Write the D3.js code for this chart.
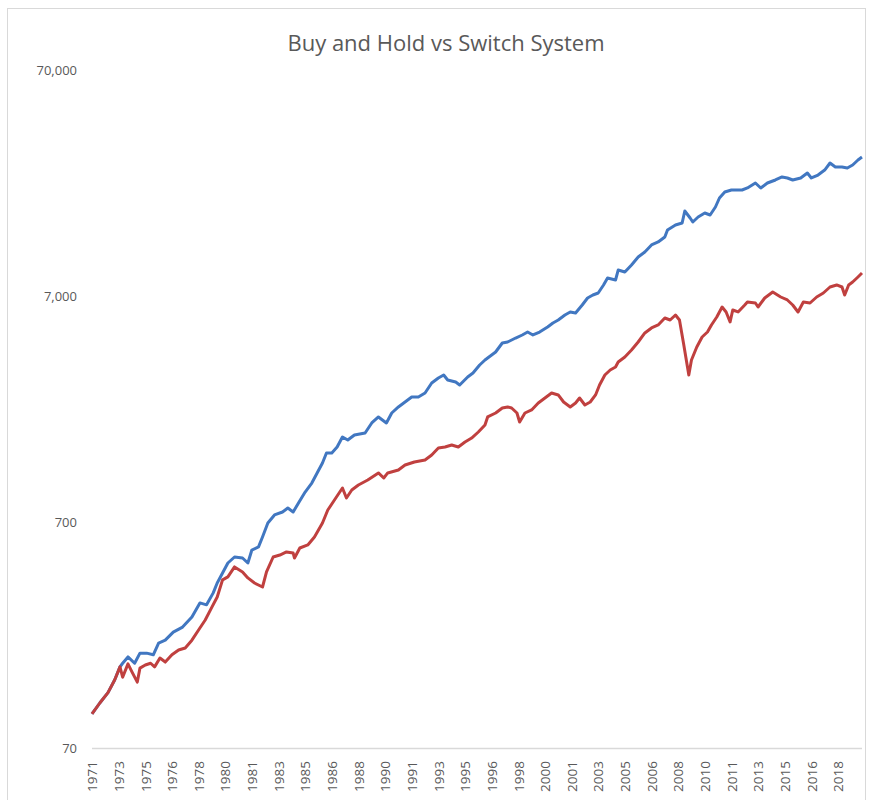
<!DOCTYPE html>
<html>
<head>
<meta charset="utf-8">
<script src="https://cdn.jsdelivr.net/npm/d3@7"></script>
<style>
  body { margin: 0; background: #fff; }
  svg { display: block; font-family: "Open Sans", sans-serif; }
</style>
</head>
<body>
<div class="container"></div>
<script>
// month offsets counted from the first data point (late 1971)
var tickMonths = [0,20,40,60,80,100,120,140,160,180,200,220,240,260,280,300,320,340,360,380,400,420,440,460,480,500,520,540,560];
var tickLabels = ['1971','1973','1975','1976','1978','1980','1981','1983','1985','1986','1988','1990','1991','1993','1995','1996','1998','2000','2001','2003','2005','2006','2008','2010','2011','2013','2015','2016','2018'];
var yTicks = [70, 700, 7000, 70000];

var blueMonths = [0,6,12,17,21,23,27,32,36,41,46,50,55,61,68,75,81,86,91,94,98,102,107,113,117,120,125,128,132,137,143,147,151,155,160,165,169,173,176,180,184,188,192,197,205,210,215,218,221,225,230,235,240,245,250,255,260,264,267,273,276,282,286,291,295,297,303,308,312,318,323,327,331,336,342,346,350,355,359,363,368,372,376,380,384,387,393,395,400,405,410,415,420,425,430,432,438,443,445,449,451,455,460,464,468,471,475,480,488,492,498,502,507,513,518,522,526,532,537,540,545,550,554,558,563,567,571,575,578];
var blueValues = [99,111,123,140,160,166,177,166,184,184,181,204,210,228,240,266,307,301,340,376,416,461,490,485,461,526,543,601,693,752,775,807,775,850,950,1041,1154,1277,1414,1414,1503,1665,1614,1699,1734,1920,2041,1979,1920,2125,2260,2377,2502,2502,2606,2885,3036,3130,2974,2915,2827,3067,3194,3466,3647,3723,3956,4336,4381,4562,4705,4850,4705,4850,5105,5317,5482,5768,5949,5888,6388,6859,7070,7217,7833,8408,8240,9121,8936,9604,10416,10955,11774,12138,12775,13713,14434,14728,16646,15498,14882,15659,16310,15981,17332,18998,20195,20608,20608,21042,22134,21042,22134,22827,23534,23296,22827,23296,24507,23296,24010,25263,27139,26061,26061,25795,26593,27986,28847];

var redMonths = [0,6,12,17,21,23,27,30,34,36,40,44,47,51,55,60,65,70,75,80,85,90,94,98,102,107,113,117,122,128,131,136,141,146,151,152,156,162,167,173,177,182,188,191,195,200,207,215,219,222,230,235,242,250,255,260,265,270,275,280,285,290,295,297,303,308,312,315,319,321,325,330,335,340,345,350,354,359,363,366,370,374,378,381,385,389,393,395,400,405,410,415,420,425,430,434,438,441,444,447,448,450,454,458,462,465,469,473,476,479,481,485,490,492,498,500,505,511,517,522,526,530,534,539,544,549,554,559,563,565,568,571,575,578];
var redValues = [99,111,123,140,160,144,165,152,137,158,163,166,160,175,168,181,190,194,210,233,258,294,326,388,400,443,421,396,376,361,421,490,500,516,510,485,537,554,601,693,791,876,990,894,970,1021,1074,1154,1096,1154,1189,1251,1290,1317,1386,1488,1503,1534,1503,1581,1647,1751,1881,2041,2125,2237,2260,2237,2125,1939,2125,2192,2353,2476,2606,2554,2377,2260,2353,2476,2306,2377,2554,2827,3130,3294,3396,3574,3760,4038,4381,4803,5054,5211,5595,5482,5768,5482,4336,3396,3130,3647,4164,4610,4850,5211,5652,6259,5949,5372,6071,5949,6388,6586,6518,6259,6859,7294,6929,6721,6388,5949,6586,6518,6929,7217,7672,7833,7672,7070,7833,8071,8498,8848];

var width = 870, height = 800;

var svg = d3.select('.container').append('svg').attr('width', width).attr('height', height);

// chart border
svg.append('rect')
	.attr('x', 7.5).attr('y', 8.5)
	.attr('width', 858).attr('height', 820)
	.attr('fill', 'none')
	.attr('stroke', '#d9d9d9');

svg.append('text')
	.attr('x', 446).attr('y', 51)
	.attr('text-anchor', 'middle')
	.attr('fill', '#595959')
	.style('font-size', '22px')
	.text('Buy and Hold vs Switch System');

var x = d3.scaleLinear().domain([0, 560]).range([92, 838]);
var y = d3.scaleLog().domain([70, 70000]).range([748, 70]);

var yAxis = svg.append('g')
	.attr('transform', 'translate(92,0)')
	.call(d3.axisLeft(y).tickValues(yTicks).tickSize(0).tickPadding(15).tickFormat(d3.format(',')));
yAxis.select('.domain').remove();
yAxis.selectAll('text').attr('fill', '#595959').style('font-size', '13px').style('font-family', '"Open Sans", sans-serif');

var xAxis = svg.append('g')
	.attr('transform', 'translate(0,748)')
	.call(d3.axisBottom(x).tickValues(tickMonths).tickSize(0).tickFormat(function(d, i){ return tickLabels[i]; }));
xAxis.select('.domain').attr('d', 'M92,0.5H862').attr('stroke', '#d9d9d9').attr('stroke-width', 1.5);
xAxis.selectAll('text')
	.attr('fill', '#595959')
	.style('font-size', '13.5px')
	.style('font-family', '"Open Sans", sans-serif')
	.attr('text-anchor', 'end')
	.attr('dy', '0.35em')
	.attr('transform', 'translate(0,13) rotate(-90)')
	.attr('x', 0).attr('y', 0);

var line = d3.line()
	.x(function(d){ return x(d[0]); })
	.y(function(d){ return y(d[1]); });

var blue = d3.zip(blueMonths, blueValues);
var red = d3.zip(redMonths, redValues);

svg.append('path')
	.datum(blue)
	.attr('d', line)
	.attr('fill', 'none')
	.attr('stroke', '#4177c1')
	.attr('stroke-width', 3)
	.attr('stroke-linejoin', 'round');

svg.append('path')
	.datum(red)
	.attr('d', line)
	.attr('fill', 'none')
	.attr('stroke', '#c0403f')
	.attr('stroke-width', 3)
	.attr('stroke-linejoin', 'round');
</script>
</body>
</html>
